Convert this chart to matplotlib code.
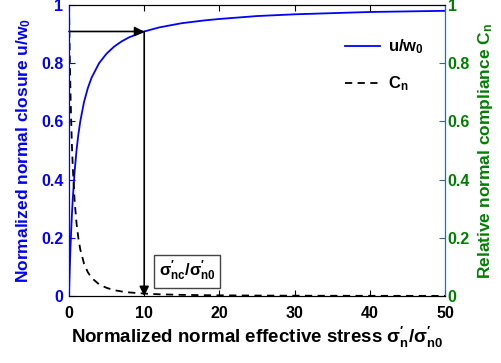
import matplotlib
matplotlib.use("Agg")
import matplotlib.pyplot as plt

plt.rcParams['font.family'] = ['Liberation Sans', 'DejaVu Sans']
plt.rcParams['font.weight'] = 'bold'
plt.rcParams['mathtext.fontset'] = 'custom'
plt.rcParams['mathtext.rm'] = 'Liberation Sans:bold'
plt.rcParams['mathtext.it'] = 'Liberation Sans:bold'
plt.rcParams['mathtext.bf'] = 'Liberation Sans:bold'

# data
stress = [0, 0.05, 0.1, 0.2, 0.3, 0.4, 0.5, 0.75, 1, 1.25, 1.5, 2, 2.5, 3, 4, 5, 6, 7, 8, 10,
          12, 15, 18, 20, 25, 30, 35, 40, 45, 50]
closure = [0, 0.048, 0.091, 0.167, 0.231, 0.286, 0.333, 0.429, 0.5, 0.556, 0.6, 0.667, 0.714,
           0.75, 0.8, 0.833, 0.857, 0.875, 0.889, 0.909, 0.923, 0.9375, 0.947, 0.952, 0.962,
           0.968, 0.972, 0.976, 0.978, 0.980]
compliance = [1, 0.907, 0.826, 0.694, 0.592, 0.510, 0.444, 0.327, 0.25, 0.198, 0.16, 0.111,
              0.082, 0.0625, 0.04, 0.028, 0.020, 0.0156, 0.0123, 0.0083, 0.0059, 0.0039,
              0.0028, 0.0023, 0.0015, 0.0010, 0.0008, 0.0006, 0.0005, 0.0004]
xticks = [0, 10, 20, 30, 40, 50]
yticks = [0, 0.2, 0.4, 0.6, 0.8, 1]
ytick_labels = ['0', '0.2', '0.4', '0.6', '0.8', '1']
marker_x = 10
marker_y = 0.909

blue = '#0000ff'
green = '#008000'
steel = '#2f6a94'

fig = plt.figure(figsize=(5.01, 3.63), dpi=100)
ax = fig.add_axes([69/501, 1-296/363, (445-69)/501, (296-5)/363])
ax2 = ax.twinx()

l1, = ax.plot(stress, closure, color=blue, lw=1.3, label='u/w$_0$')
l2, = ax2.plot(stress, compliance, color='black', lw=1.3, ls=(0, (4, 3)), label='C$_n$')

ax.set_xlim(0, 50)
ax.set_ylim(0, 1)
ax2.set_ylim(0, 1)
ax.set_xticks(xticks)
ax.set_yticks(yticks)
ax.set_yticklabels(ytick_labels)
ax2.set_yticks(yticks)
ax2.set_yticklabels(ytick_labels)

ax.tick_params(axis='x', direction='in', top=True, labelsize=11.5, length=4, pad=7)
ax.tick_params(axis='y', direction='in', colors=blue, labelsize=11.5, length=4, pad=4)
ax2.tick_params(axis='y', direction='in', colors=steel, labelcolor=green, labelsize=11.5,
                length=4, pad=2)
for lab in ax.get_xticklabels() + ax.get_yticklabels() + ax2.get_yticklabels():
    lab.set_fontweight('bold')

ax.spines['left'].set_color(blue)
ax2.spines['left'].set_color(blue)
ax2.spines['right'].set_color(steel)
ax.spines['right'].set_color(steel)

ax.set_xlabel("Normalized normal effective stress σ$^{\\prime}_{n}$/σ$^{\\prime}_{n0}$",
              fontsize=13.5, fontweight='bold', labelpad=3)
ax.set_ylabel("Normalized normal closure u/w$_0$", fontsize=12.5, fontweight='bold',
              color=blue, labelpad=6)
ax2.set_ylabel("Relative normal compliance C$_n$", fontsize=12.5, fontweight='bold',
               color=green, labelpad=4)

# arrows
ax.annotate('', xy=(marker_x, marker_y), xytext=(0, marker_y),
            arrowprops=dict(arrowstyle='-|>', color='black', lw=1.2, mutation_scale=14,
                            shrinkA=0, shrinkB=0))
ax.annotate('', xy=(marker_x, 0), xytext=(marker_x, marker_y),
            arrowprops=dict(arrowstyle='-|>', color='black', lw=1.2, mutation_scale=14,
                            shrinkA=0, shrinkB=0))
ax.text(15.7, 0.085, "σ$^{\\prime}_{nc}$/σ$^{\\prime}_{n0}$", fontsize=12, fontweight='bold',
        ha='center', va='center',
        bbox=dict(boxstyle='square,pad=0.25', fc='white', ec='#444444', lw=1))

leg = ax2.legend(handles=[l1, l2], loc='upper right', bbox_to_anchor=(0.985, 0.94),
                 frameon=False, handlelength=2.1, handletextpad=0.5, labelspacing=1.1,
                 prop={'weight': 'bold', 'size': 12})

fig.savefig('out.png', dpi=100)
